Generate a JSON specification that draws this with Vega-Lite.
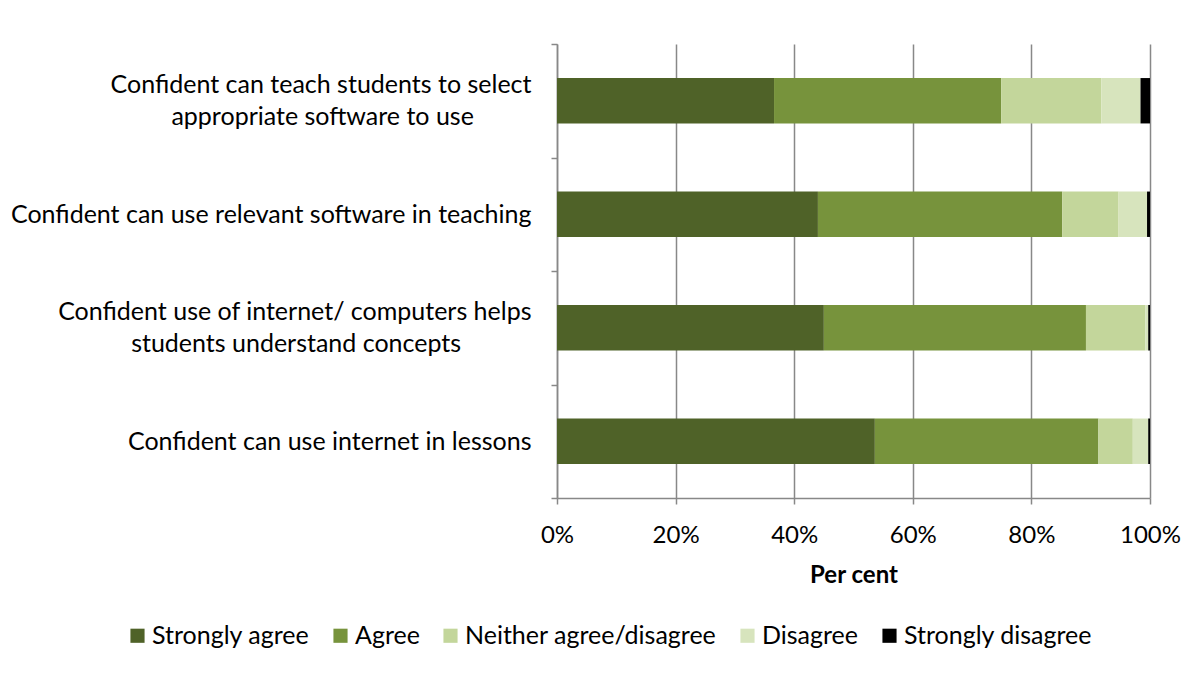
{
  "$schema": "https://vega.github.io/schema/vega-lite/v6.json",
  "autosize": "none",
  "width": 593,
  "height": 454,
  "padding": {"left": 557, "top": 44, "right": 42, "bottom": 195},
  "background": "white",
  "config": {
    "view": {"stroke": null},
    "font": "Lato",
    "axis": {"labelFont": "Lato", "titleFont": "Lato", "labelColor": "black", "titleColor": "black"},
    "legend": {"labelFont": "Lato"}
  },
  "data": {
    "values": [
      {"item": "Confident can teach students to select|appropriate software to use\u00a0\u00a0\u00a0\u00a0\u00a0\u00a0\u00a0\u00a0\u00a0\u200b", "order": 1, "resp": "Strongly agree", "r": 1, "pct": 36.6},
      {"item": "Confident can teach students to select|appropriate software to use\u00a0\u00a0\u00a0\u00a0\u00a0\u00a0\u00a0\u00a0\u00a0\u200b", "order": 1, "resp": "Agree", "r": 2, "pct": 38.3},
      {"item": "Confident can teach students to select|appropriate software to use\u00a0\u00a0\u00a0\u00a0\u00a0\u00a0\u00a0\u00a0\u00a0\u200b", "order": 1, "resp": "Neither agree/disagree", "r": 3, "pct": 16.9},
      {"item": "Confident can teach students to select|appropriate software to use\u00a0\u00a0\u00a0\u00a0\u00a0\u00a0\u00a0\u00a0\u00a0\u200b", "order": 1, "resp": "Disagree", "r": 4, "pct": 6.6},
      {"item": "Confident can teach students to select|appropriate software to use\u00a0\u00a0\u00a0\u00a0\u00a0\u00a0\u00a0\u00a0\u00a0\u200b", "order": 1, "resp": "Strongly disagree", "r": 5, "pct": 1.6},
      {"item": "Confident can use relevant software in teaching", "order": 2, "resp": "Strongly agree", "r": 1, "pct": 44.0},
      {"item": "Confident can use relevant software in teaching", "order": 2, "resp": "Agree", "r": 2, "pct": 41.2},
      {"item": "Confident can use relevant software in teaching", "order": 2, "resp": "Neither agree/disagree", "r": 3, "pct": 9.5},
      {"item": "Confident can use relevant software in teaching", "order": 2, "resp": "Disagree", "r": 4, "pct": 4.8},
      {"item": "Confident can use relevant software in teaching", "order": 2, "resp": "Strongly disagree", "r": 5, "pct": 0.5},
      {"item": "Confident use of internet/ computers helps|students understand concepts\u00a0\u00a0\u00a0\u00a0\u00a0\u00a0\u00a0\u00a0\u00a0\u00a0\u00a0\u200b", "order": 3, "resp": "Strongly agree", "r": 1, "pct": 45.0},
      {"item": "Confident use of internet/ computers helps|students understand concepts\u00a0\u00a0\u00a0\u00a0\u00a0\u00a0\u00a0\u00a0\u00a0\u00a0\u00a0\u200b", "order": 3, "resp": "Agree", "r": 2, "pct": 44.2},
      {"item": "Confident use of internet/ computers helps|students understand concepts\u00a0\u00a0\u00a0\u00a0\u00a0\u00a0\u00a0\u00a0\u00a0\u00a0\u00a0\u200b", "order": 3, "resp": "Neither agree/disagree", "r": 3, "pct": 10.0},
      {"item": "Confident use of internet/ computers helps|students understand concepts\u00a0\u00a0\u00a0\u00a0\u00a0\u00a0\u00a0\u00a0\u00a0\u00a0\u00a0\u200b", "order": 3, "resp": "Disagree", "r": 4, "pct": 0.5},
      {"item": "Confident use of internet/ computers helps|students understand concepts\u00a0\u00a0\u00a0\u00a0\u00a0\u00a0\u00a0\u00a0\u00a0\u00a0\u00a0\u200b", "order": 3, "resp": "Strongly disagree", "r": 5, "pct": 0.3},
      {"item": "Confident can use internet in lessons", "order": 4, "resp": "Strongly agree", "r": 1, "pct": 53.6},
      {"item": "Confident can use internet in lessons", "order": 4, "resp": "Agree", "r": 2, "pct": 37.7},
      {"item": "Confident can use internet in lessons", "order": 4, "resp": "Neither agree/disagree", "r": 3, "pct": 5.8},
      {"item": "Confident can use internet in lessons", "order": 4, "resp": "Disagree", "r": 4, "pct": 2.6},
      {"item": "Confident can use internet in lessons", "order": 4, "resp": "Strongly disagree", "r": 5, "pct": 0.3}
    ]
  },
  "mark": {"type": "bar", "height": {"band": 0.4}},
  "encoding": {
    "y": {
      "field": "item",
      "type": "nominal",
      "sort": {"field": "order", "op": "min"},
      "scale": {"paddingInner": 0, "paddingOuter": 0},
      "axis": {
        "title": null,
        "labelExpr": "split(datum.label, '|')",
        "labelFontSize": 25,
        "labelAlign": "right",
        "labelPadding": 20,
        "labelLineHeight": 32,
        "labelLimit": 700,
        "labelOffset": {"condition": {"test": "length(split(datum.value, '|')) > 1", "value": -16}, "value": 0},
        "tickBand": "extent",
        "tickSize": 6,
        "tickColor": "#888888",
        "tickWidth": 1.5,
        "domainColor": "#888888",
        "domainWidth": 1.5,
        "grid": false
      }
    },
    "x": {
      "field": "pct",
      "type": "quantitative",
      "stack": "normalize",
      "scale": {"domain": [0, 1]},
      "axis": {
        "title": "Per cent",
        "titleFontSize": 24,
        "titleFontWeight": "bold",
        "titlePadding": 16,
        "format": "%",
        "values": [0, 0.2, 0.4, 0.6, 0.8, 1],
        "labelFontSize": 24,
        "labelPadding": 19,
        "labelFlush": false,
        "tickSize": 6,
        "tickColor": "#888888",
        "tickWidth": 1.5,
        "domainColor": "#888888",
        "domainWidth": 1.5,
        "grid": true,
        "gridColor": "#888888",
        "gridWidth": 1.5
      }
    },
    "color": {
      "field": "resp",
      "type": "nominal",
      "sort": ["Strongly agree", "Agree", "Neither agree/disagree", "Disagree", "Strongly disagree"],
      "scale": {
        "domain": ["Strongly agree", "Agree", "Neither agree/disagree", "Disagree", "Strongly disagree"],
        "range": ["#4F6228", "#77933C", "#C3D69B", "#D7E4BD", "#000000"]
      },
      "legend": {
        "title": null,
        "orient": "none",
        "direction": "horizontal",
        "legendX": -432,
        "legendY": 579,
        "padding": 0,
        "symbolType": "square",
        "symbolSize": 200,
        "symbolStrokeWidth": 0,
        "labelFontSize": 25,
        "labelLimit": 400,
        "labelColor": "black",
        "columnPadding": 18,
        "labelOffset": 2
      }
    },
    "order": {"field": "r", "type": "quantitative"}
  }
}
